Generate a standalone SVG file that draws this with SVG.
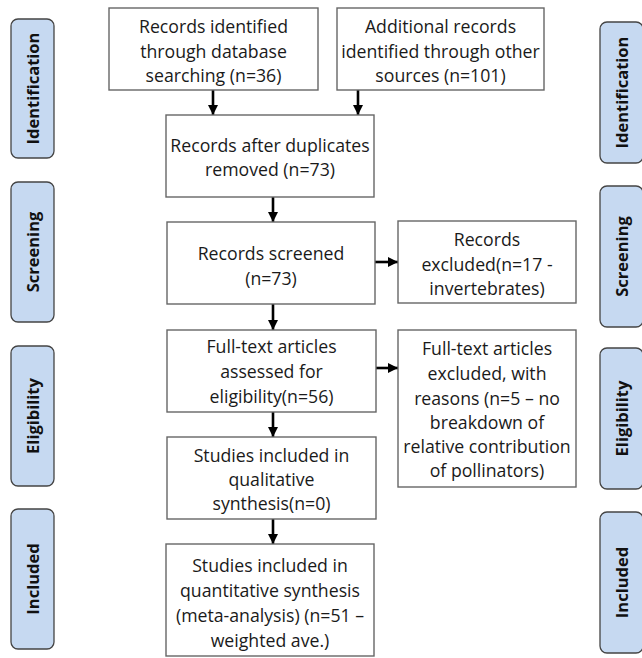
<svg xmlns="http://www.w3.org/2000/svg" width="642" height="658" viewBox="0 0 642 658">
<defs>
<marker id="ah" viewBox="0 0 10 10" refX="10" refY="5" markerWidth="4" markerHeight="4" orient="auto" markerUnits="strokeWidth">
<path d="M0,0 L10,5 L0,10 z" fill="#000"/>
</marker>
<style>
.box{fill:#fff;stroke:#666;stroke-width:1.4}
.side{fill:#c6d9f1;stroke:#444;stroke-width:1.3}
.t{font-family:"Open Sans",Lato,"Liberation Sans",sans-serif;font-size:17.7px;fill:#1a1a1a;text-anchor:middle}
.s{font-family:"Open Sans","Liberation Sans",sans-serif;font-size:16.5px;font-weight:bold;fill:#111;text-anchor:middle}
.c{stroke:#000;stroke-width:2.6;fill:none;marker-end:url(#ah)}
</style>
</defs>
<rect width="642" height="658" fill="#fff"/>
<g id="side-left">
<g id="sl-identification"><rect class="side" x="11" y="19" width="43" height="139" rx="7"/><text class="s" transform="translate(38.5,88.5) rotate(-90)">Identification</text></g>
<g id="sl-screening"><rect class="side" x="11" y="182" width="43" height="140" rx="7"/><text class="s" transform="translate(38.5,252) rotate(-90)">Screening</text></g>
<g id="sl-eligibility"><rect class="side" x="11" y="346" width="43" height="140" rx="7"/><text class="s" transform="translate(38.5,416) rotate(-90)">Eligibility</text></g>
<g id="sl-included"><rect class="side" x="11" y="509" width="43" height="140" rx="7"/><text class="s" transform="translate(38.5,579) rotate(-90)">Included</text></g>
</g>
<g id="side-right">
<g id="sr-identification"><rect class="side" x="600" y="22" width="43" height="141" rx="7"/><text class="s" transform="translate(627.5,92.5) rotate(-90)">Identification</text></g>
<g id="sr-screening"><rect class="side" x="600" y="186" width="43" height="141" rx="7"/><text class="s" transform="translate(627.5,256.5) rotate(-90)">Screening</text></g>
<g id="sr-eligibility"><rect class="side" x="600" y="348" width="43" height="141" rx="7"/><text class="s" transform="translate(627.5,418.5) rotate(-90)">Eligibility</text></g>
<g id="sr-included"><rect class="side" x="600" y="512" width="43" height="141" rx="7"/><text class="s" transform="translate(627.5,582.5) rotate(-90)">Included</text></g>
</g>
<g id="connectors">
<line class="c" x1="213" y1="90" x2="213" y2="115"/>
<line class="c" x1="358" y1="90" x2="358" y2="115"/>
<line class="c" x1="273" y1="197" x2="273" y2="222"/>
<line class="c" x1="375" y1="262" x2="398" y2="262"/>
<line class="c" x1="273" y1="304" x2="273" y2="330"/>
<line class="c" x1="376" y1="368" x2="398" y2="368"/>
<line class="c" x1="273" y1="412" x2="273" y2="437"/>
<line class="c" x1="273" y1="519" x2="273" y2="544"/>
</g>
<g id="n1"><rect class="box" x="109" y="8" width="209" height="82"/>
<text class="t" x="213.5" y="33">Records identified</text><text class="t" x="213.5" y="58">through database</text><text class="t" x="213.5" y="82">searching (n=36)</text></g>
<g id="n2"><rect class="box" x="337" y="8" width="207" height="82"/>
<text class="t" x="440.5" y="33">Additional records</text><text class="t" x="440.5" y="58">identified through other</text><text class="t" x="440.5" y="82">sources (n=101)</text></g>
<g id="n3"><rect class="box" x="166" y="115" width="208" height="82"/>
<text class="t" x="270" y="152">Records after duplicates</text><text class="t" x="270" y="176">removed (n=73)</text></g>
<g id="n4"><rect class="box" x="167" y="222" width="208" height="82"/>
<text class="t" x="271" y="260">Records screened</text><text class="t" x="271" y="285">(n=73)</text></g>
<g id="n5"><rect class="box" x="398" y="221" width="178" height="82"/>
<text class="t" x="487" y="246">Records</text><text class="t" x="487" y="271">excluded(n=17 -</text><text class="t" x="487" y="295">invertebrates)</text></g>
<g id="n6"><rect class="box" x="167" y="330" width="209" height="82"/>
<text class="t" x="271.5" y="353">Full-text articles</text><text class="t" x="271.5" y="378">assessed for</text><text class="t" x="271.5" y="403">eligibility(n=56)</text></g>
<g id="n7"><rect class="box" x="398" y="330" width="178" height="157"/>
<text class="t" x="487" y="355">Full-text articles</text><text class="t" x="487" y="380">excluded, with</text><text class="t" x="487" y="405">reasons (n=5 – no</text><text class="t" x="487" y="429">breakdown of</text><text class="t" x="487" y="453">relative contribution</text><text class="t" x="487" y="477">of pollinators)</text></g>
<g id="n8"><rect class="box" x="167" y="437" width="209" height="82"/>
<text class="t" x="271.5" y="462">Studies included in</text><text class="t" x="271.5" y="486">qualitative</text><text class="t" x="271.5" y="510">synthesis(n=0)</text></g>
<g id="n9"><rect class="box" x="166" y="544" width="208" height="112"/>
<text class="t" x="270" y="572">Studies included in</text><text class="t" x="270" y="597">quantitative synthesis</text><text class="t" x="270" y="622">(meta-analysis) (n=51 –</text><text class="t" x="270" y="647">weighted ave.)</text></g>
</svg>
